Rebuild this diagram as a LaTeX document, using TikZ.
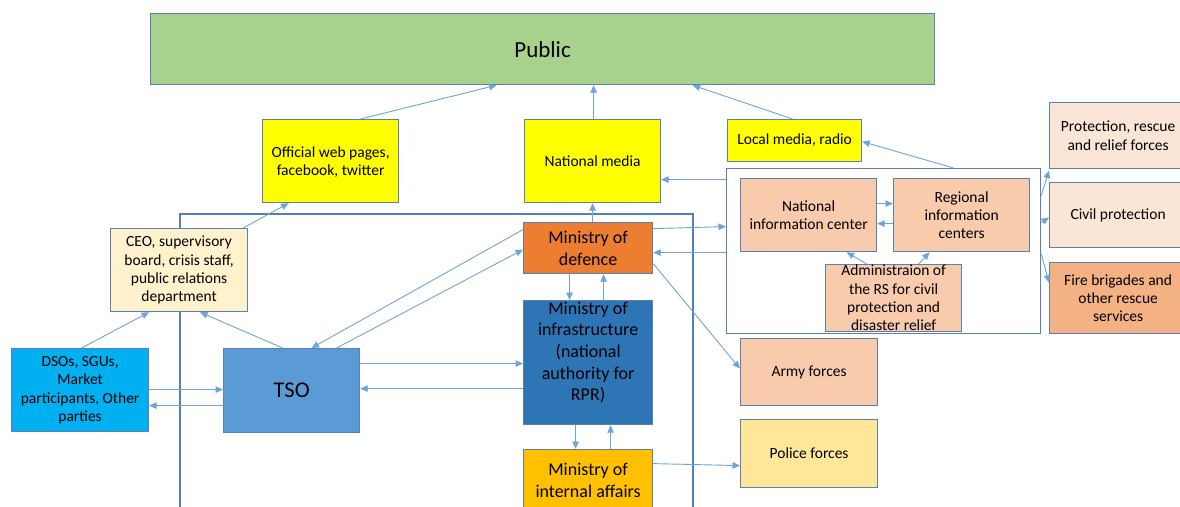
\documentclass[tikz,border=0pt]{standalone}
\usepackage{fontspec}
\setmainfont{Carlito}
\usetikzlibrary{arrows.meta}

\definecolor{cPublic}{HTML}{A9D18E}
\definecolor{cYellow}{HTML}{FFFF00}
\definecolor{cCream}{HTML}{FFF2CC}
\definecolor{cDsos}{HTML}{00B0F0}
\definecolor{cTso}{HTML}{5B9BD5}
\definecolor{cDef}{HTML}{ED7D31}
\definecolor{cInfra}{HTML}{2E75B6}
\definecolor{cInt}{HTML}{FFC000}
\definecolor{cPeach}{HTML}{F8CBAD}
\definecolor{cLight}{HTML}{FBE5D6}
\definecolor{cFire}{HTML}{F4B183}
\definecolor{cPolice}{HTML}{FFE699}
\definecolor{boxline}{HTML}{5A80B4}
\definecolor{frameline}{HTML}{5580B6}
\definecolor{linkblue}{HTML}{6FA3DC}

\begin{document}
\begin{tikzpicture}[x=1pt,y=-1pt,
  box/.style={draw=boxline, line width=1.2pt, inner sep=0pt, anchor=north west},
  txt/.style={align=center, text=black, font=\fontsize{15.5}{18.3}\selectfont},
  bigtxt/.style={align=center, text=black, font=\fontsize{18}{21.7}\selectfont},
  link/.style={draw=linkblue, line width=0.9pt, -{Triangle[length=7.5pt,width=6.5pt]}}]
\useasboundingbox (0,0) rectangle (1180,506);
\clip (0,0) rectangle (1180,506);

% frame around the TSO and the ministries
\draw[frameline, line width=1.3pt] (180,520) -- (180,214) -- (693,214) -- (693,520);

% top level
\node[box, fill=cPublic, minimum width=784pt, minimum height=71pt] (public) at (150,13) {};
\node[txt, font=\fontsize{23}{27}\selectfont] (public-t) at (public.center) {Public};

% media
\node[box, fill=cYellow, minimum width=136pt, minimum height=83pt] (web) at (262,119) {};
\node[txt] (web-t) at ([yshift=-1pt]web.center) {Official web pages,\\facebook, twitter};
\node[box, fill=cYellow, minimum width=136pt, minimum height=83pt] (natmedia) at (524,119) {};
\node[txt] (natmedia-t) at (natmedia.center) {National media};
\node[box, fill=cYellow, minimum width=134pt, minimum height=42pt] (local) at (727,119) {};
\node[txt] (local-t) at (local.center) {Local media, radio};

% rescue services on the right
\node[box, fill=cLight, minimum width=137pt, minimum height=66pt] (protection) at (1049,102) {};
\node[txt] (protection-t) at (protection.center) {Protection, rescue\\and relief forces};
\node[box, fill=cLight, minimum width=137pt, minimum height=65pt] (civil) at (1049,182) {};
\node[txt] (civil-t) at (civil.center) {Civil protection};
\node[box, fill=cFire, minimum width=137pt, minimum height=71pt] (fire) at (1049,262) {};
\node[txt] (fire-t) at (fire.center) {Fire brigades and\\other rescue\\services};

% information centres group
\node[box, fill=white, minimum width=314pt, minimum height=165pt] (group) at (726,168) {};
\node[box, fill=cPeach, minimum width=136pt, minimum height=73pt] (natinfo) at (740,178) {};
\node[txt] (natinfo-t) at (natinfo.center) {National\\information center};
\node[box, fill=cPeach, minimum width=136pt, minimum height=73pt] (regional) at (893,178) {};
\node[txt] (regional-t) at (regional.center) {Regional\\information\\centers};
\node[box, fill=cPeach, minimum width=136pt, minimum height=67pt] (admin) at (825,264) {};
\node[txt] (admin-t) at (admin.center) {Administraion of\\the RS for civil\\protection and\\disaster relief};

% company side
\node[box, fill=cCream, minimum width=137pt, minimum height=83pt] (ceo) at (110,228) {};
\node[txt] (ceo-t) at (ceo.center) {CEO, supervisory\\board, crisis staff,\\public relations\\department};
\node[box, fill=cDsos, minimum width=137pt, minimum height=83pt] (dsos) at (11,348) {};
\node[txt] (dsos-t) at (dsos.center) {DSOs, SGUs,\\Market\\participants, Other\\parties};
\node[box, fill=cTso, minimum width=136pt, minimum height=84pt] (tso) at (223,348) {};
\node[txt, font=\fontsize{22.5}{26}\selectfont] (tso-t) at (tso.center) {TSO};

% ministries
\node[box, fill=cDef, minimum width=129pt, minimum height=51pt] (defence) at (523,222) {};
\node[bigtxt] (defence-t) at (defence.center) {Ministry of\\defence};
\node[box, fill=cInfra, minimum width=129pt, minimum height=124pt] (infra) at (523,300) {};
\node[bigtxt] (infra-t) at ([yshift=10pt]infra.center) {Ministry of\\infrastructure\\(national\\authority for\\RPR)};
\node[box, fill=cInt, minimum width=129pt, minimum height=62pt] (internal) at (523,449) {};
\node[bigtxt] (internal-t) at (internal.center) {Ministry of\\internal affairs};

% forces
\node[box, fill=cPeach, minimum width=137pt, minimum height=67pt] (army) at (740,338) {};
\node[txt] (army-t) at (army.center) {Army forces};
\node[box, fill=cPolice, minimum width=137pt, minimum height=68pt] (police) at (740,419) {};
\node[txt] (police-t) at (police.center) {Police forces};

% links towards the public
\draw[link] ([xshift=30pt]web.north) -- ([xshift=-46pt]public.south);
\draw[link] ([xshift=1pt]natmedia.north) -- ([xshift=51pt]public.south);
\draw[link] ([xshift=-2pt]local.north) -- ([xshift=150pt]public.south);

% company links
\draw[link] ([xshift=64pt]ceo.north) -- ([xshift=-42pt]web.south);
\draw[link] ([xshift=1.5pt]dsos.north) -- ([xshift=-30pt]ceo.south);
\draw[link] ([xshift=-9pt]tso.north) -- ([xshift=21pt]ceo.south);
\draw[link] ([yshift=0.5pt]dsos.east) -- ([yshift=1pt]tso.west);
\draw[link] ([yshift=-15pt]tso.west) -- ([yshift=-15.5pt]dsos.east);

% TSO and ministries
\draw[link] ([yshift=18.5pt]defence.west) -- ([xshift=20pt]tso.north);
\draw[link] ([xshift=45pt]tso.north) -- ([yshift=-1.5pt]defence.west);
\draw[link] ([yshift=27pt]tso.east) -- ([yshift=-1pt]infra.west);
\draw[link] ([yshift=-26pt]infra.west) -- ([yshift=2pt]tso.east);
\draw[link] ([xshift=-18.5pt]defence.south) -- ([xshift=-18.5pt]infra.north);
\draw[link] ([xshift=15.5pt]infra.north) -- ([xshift=15.5pt]defence.south);
\draw[link] ([xshift=-12.5pt]infra.south) -- ([xshift=-12.5pt]internal.north);
\draw[link] ([xshift=22.5pt]internal.north) -- ([xshift=22.5pt]infra.south);
\draw[link] ([xshift=4.5pt]defence.north) -- (natmedia.south);

% ministries and forces
\draw[link] ([yshift=-15.5pt]defence.east) -- ([yshift=3.5pt]army.west);
\draw[link] ([yshift=17pt]internal.east) -- ([yshift=-12pt]police.west);

% ministry of defence and information centres
\draw[link] ([yshift=19.5pt]defence.east) -- ([yshift=24.5pt]group.west);
\draw[link] ([yshift=-1.5pt]group.west) -- ([yshift=-4.5pt]defence.east);
\draw[link] ([yshift=71.5pt]group.west) -- ([yshift=-18.5pt]natmedia.east);
\draw[link] ([xshift=70pt]group.north) -- ([yshift=-1pt]local.east);

% inside the information centres group
\draw[link] ([yshift=11.5pt]natinfo.east) -- ([yshift=11.5pt]regional.west);
\draw[link] ([yshift=-8.5pt]regional.west) -- ([yshift=-8.5pt]natinfo.east);
\draw[link] ([xshift=-27pt]admin.north) -- ([xshift=38pt]natinfo.south);
\draw[link] ([xshift=25pt]admin.north) -- ([xshift=-32pt]regional.south);

% to the rescue services
\draw[link] ([yshift=55.5pt]group.east) -- ([yshift=-35pt]protection.west);
\draw[link] ([yshift=28.5pt]group.east) -- ([yshift=-2.5pt]civil.west);
\draw[link] ([yshift=-2.5pt]group.east) -- ([yshift=15.5pt]fire.west);
\end{tikzpicture}
\end{document}
